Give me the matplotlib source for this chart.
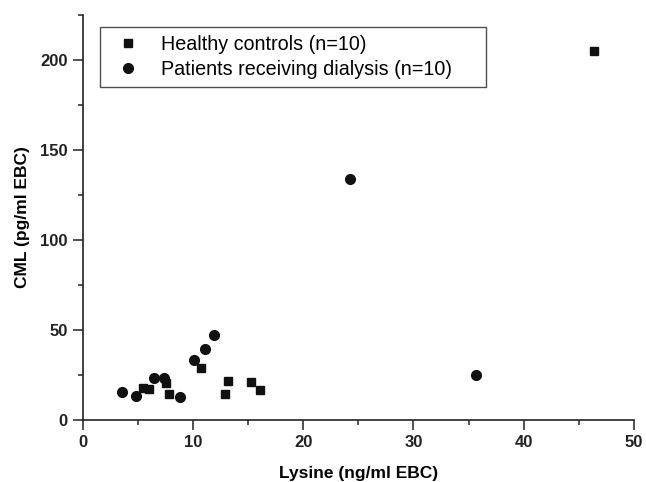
import matplotlib.pyplot as plt
from matplotlib.ticker import MultipleLocator

plt.rcParams['font.family'] = ['Liberation Sans', 'DejaVu Sans']

# Healthy controls (squares)
healthy_lys = [5.5, 6.0, 7.6, 7.8, 10.7, 12.95, 13.2, 15.3, 16.1, 46.4]
healthy_cml = [17.7, 17.1, 20.3, 14.3, 28.8, 14.3, 21.4, 21.0, 16.7, 205.0]

# Patients receiving dialysis (circles)
dialysis_lys = [3.6, 4.8, 6.5, 7.4, 8.8, 10.1, 11.05, 11.9, 24.2, 35.7]
dialysis_cml = [15.4, 13.6, 23.2, 23.6, 13.0, 33.5, 39.2, 47.0, 134.0, 25.0]

fig = plt.figure(figsize=(6.46, 4.82), dpi=100)
ax = fig.add_axes([82.7 / 646, 1 - 420 / 482, (634 - 82.7) / 646, (420 - 15) / 482])

ax.plot(healthy_lys, healthy_cml, 's', color='#111111', markersize=6.3,
        label='Healthy controls (n=10)', clip_on=False)
ax.plot(dialysis_lys, dialysis_cml, 'o', color='#111111', markersize=7.0,
        label='Patients receiving dialysis (n=10)', clip_on=False)

ax.set_xlim(0, 50)
ax.set_ylim(0, 225)
ax.xaxis.set_major_locator(MultipleLocator(10))
ax.xaxis.set_minor_locator(MultipleLocator(5))
ax.yaxis.set_major_locator(MultipleLocator(50))
ax.yaxis.set_minor_locator(MultipleLocator(25))

for s in ['top', 'right']:
    ax.spines[s].set_visible(False)
for s in ['left', 'bottom']:
    ax.spines[s].set_linewidth(1.2)
    ax.spines[s].set_color('#222222')

ax.tick_params(which='major', direction='out', length=7, width=1.1, colors='#222222',
               labelsize=12, pad=4)
ax.tick_params(which='minor', direction='out', length=3.5, width=1.1, colors='#222222')
for lbl in ax.get_xticklabels() + ax.get_yticklabels():
    lbl.set_fontweight('bold')

ax.set_xlabel('Lysine (ng/ml EBC)', fontsize=12.5, fontweight='bold', labelpad=11)
ax.set_ylabel('CML (pg/ml EBC)', fontsize=12.5, fontweight='bold', labelpad=7)

# legend box stretched to the width of the original frame
leg = ax.legend(loc='upper left', bbox_to_anchor=(0.031, 0.0, 0.70, 0.97),
                mode='expand', fontsize=14.2,
                frameon=True, fancybox=False, edgecolor='#222222',
                handletextpad=0.6, borderpad=0.4, labelspacing=0.3,
                handlelength=2.1, borderaxespad=0)
leg.get_frame().set_linewidth(1.0)

plt.savefig('out.png', dpi=100)
